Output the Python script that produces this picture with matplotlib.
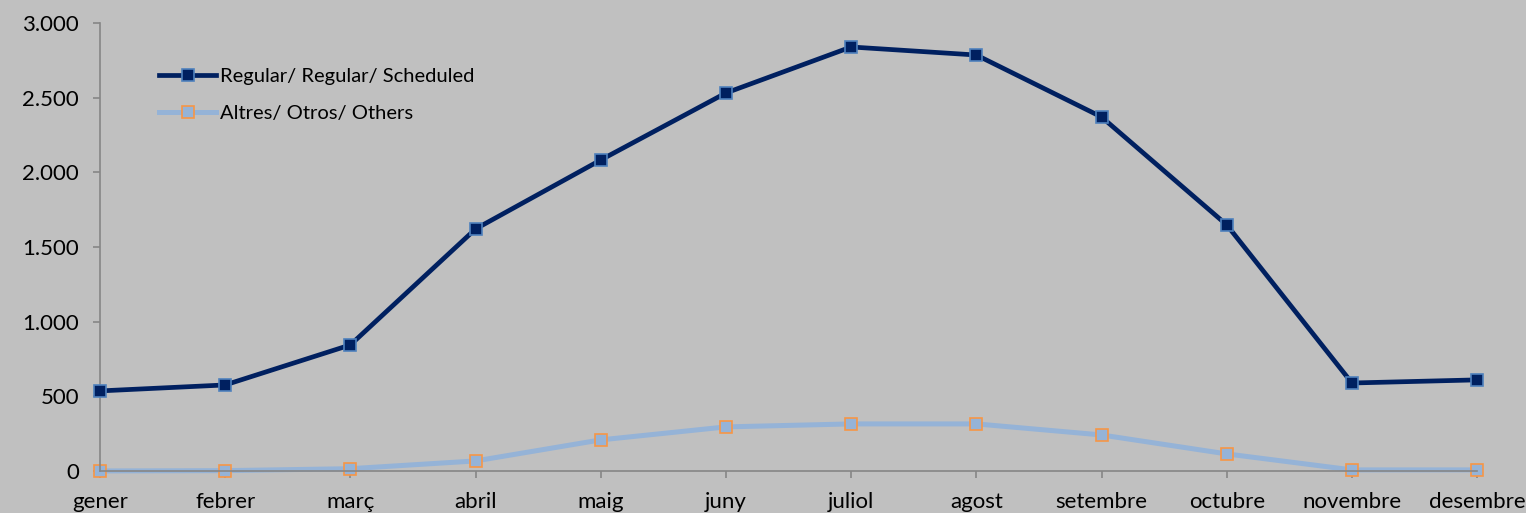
import matplotlib
matplotlib.use("Agg")
import matplotlib.pyplot as plt
import numpy as np

# Dades (llegides del gràfic)
mesos = ["gener", "febrer", "març", "abril", "maig", "juny",
         "juliol", "agost", "setembre", "octubre", "novembre", "desembre"]
regular = [536, 576, 844, 1621, 2083, 2532, 2840, 2786, 2371, 1648, 589, 610]
altres = [0, 2, 15, 67, 208, 295, 315, 315, 241, 114, 7, 7]

plt.rcParams['font.family'] = ['Lato', 'DejaVu Sans']

bg = "#c0c0c0"
fig = plt.figure(figsize=(15.26, 5.13), dpi=100, facecolor=bg)
ax = fig.add_axes([0.0655, 0.082, 0.9025, 0.873], facecolor=bg)

x = np.arange(len(mesos))
ax.plot(x, regular, color="#002060", linewidth=3.4, marker="s", markersize=8,
        markerfacecolor="#002060", markeredgecolor="#4f81bd", markeredgewidth=1.2,
        label="Regular/ Regular/ Scheduled", zorder=3, clip_on=False)
ax.plot(x, altres, color="#95b3d7", linewidth=3.6, marker="s", markersize=8,
        markerfacecolor="#95b3d7", markeredgecolor="#f79646", markeredgewidth=1.2,
        label="Altres/ Otros/ Others", zorder=2, clip_on=False)

ax.set_xlim(0, len(mesos) - 1)
ax.set_ylim(0, 3000)
ax.set_yticks(np.arange(0, 3001, 500))
ax.set_yticklabels([f"{v:,}".replace(",", ".") for v in range(0, 3001, 500)])
ax.set_xticks(x)
ax.set_xticklabels(mesos)

for s in ["top", "right"]:
    ax.spines[s].set_visible(False)
for s in ["left", "bottom"]:
    ax.spines[s].set_color("#868686")
    ax.spines[s].set_linewidth(1.2)
ax.tick_params(axis="both", colors="#868686", labelcolor="black", labelsize=16,
               length=5, width=1.2)
ax.tick_params(axis="y", pad=10)
ax.tick_params(axis="x", pad=10)

ax.legend(loc="upper left", bbox_to_anchor=(0.03, 0.94), frameon=False,
          fontsize=14.5, handlelength=2.8, labelspacing=1.0, handletextpad=0.2)

plt.savefig("out.png", dpi=100, facecolor=bg)
